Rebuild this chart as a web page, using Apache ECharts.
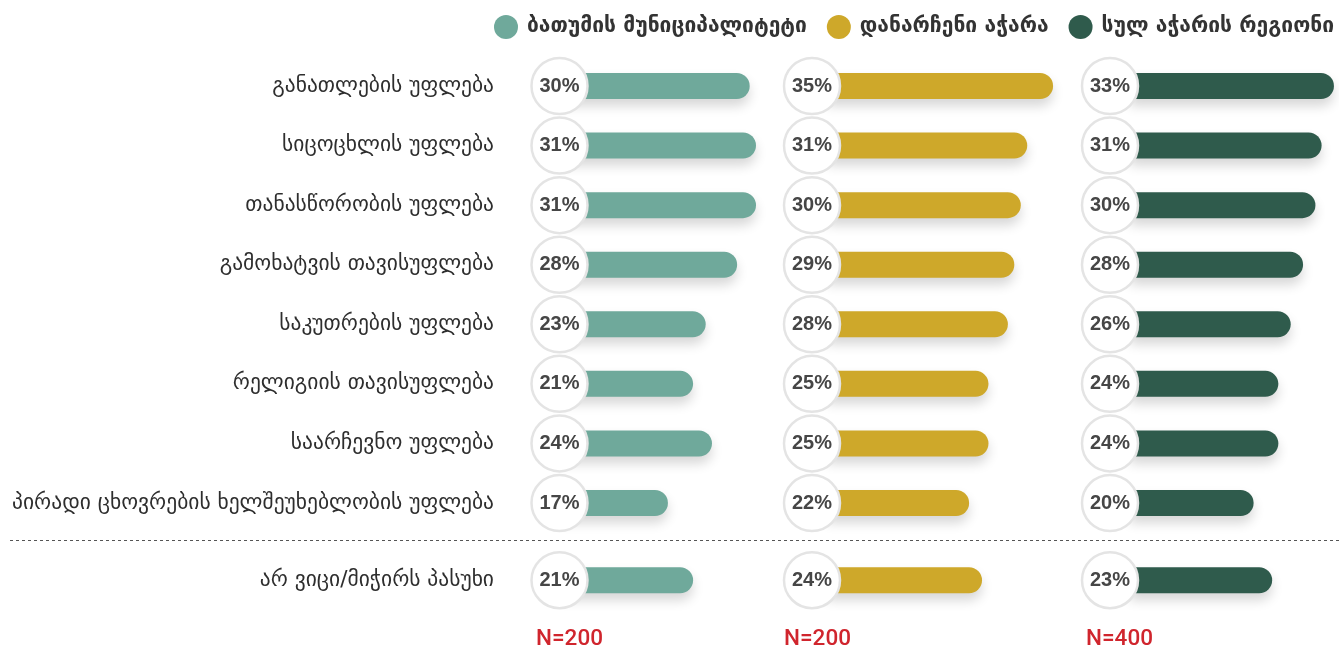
<!DOCTYPE html>
<html>
<head>
<meta charset="utf-8">
<script src="https://cdn.jsdelivr.net/npm/echarts@6/dist/echarts.min.js"></script>
<style>
html,body{margin:0;padding:0;background:#fff;}
#chart{width:1339px;height:651px;}
</style>
</head>
<body>
<div id="chart"></div>
<script>
// ---- data ----
const categories = [
  'განათლების უფლება',
  'სიცოცხლის უფლება',
  'თანასწორობის უფლება',
  'გამოხატვის თავისუფლება',
  'საკუთრების უფლება',
  'რელიგიის თავისუფლება',
  'საარჩევნო უფლება',
  'პირადი ცხოვრების ხელშეუხებლობის უფლება'
];
const extraCategories = ['არ ვიცი/მიჭირს პასუხი'];
const seriesNames = ['ბათუმის მუნიციპალიტეტი', 'დანარჩენი აჭარა', 'სულ აჭარის რეგიონი'];
const batumi      = [30, 31, 31, 28, 23, 21, 24, 17];
const restAdjara  = [35, 31, 30, 29, 28, 25, 25, 22];
const allAdjara   = [33, 31, 30, 28, 26, 24, 24, 20];
const batumiExtra = [21];
const restExtra   = [24];
const allExtra    = [23];
const sampleSizes = ['N=200', 'N=200', 'N=400'];

// ---- layout / style ----
const colors = ['#6fa99b', '#cea82a', '#2f5b4c'];
const mainValues = [batumi, restAdjara, allAdjara];
const extraValues = [batumiExtra, restExtra, allExtra];
const panels = [
  {left: 559.5, min: -0.24, max: 40, scale: 6.29},
  {left: 812,   min: -2.32, max: 40, scale: 6.46},
  {left: 1110,  min: -3.24, max: 33.8, scale: 6.18}
];
const nLeft = [536, 784, 1086];
const geoFont = '"DejaVu Sans", "Noto Sans", sans-serif';
const numFont = '"Liberation Sans", Arial, sans-serif';

const grids = [], xAxes = [], yAxes = [], series = [];
const rowsSets = [
  {cats: categories, top: 56.2, height: 476.6, vals: mainValues},
  {cats: extraCategories, top: 550.4, height: 59.6, vals: extraValues}
];

rowsSets.forEach((rs, r) => {
  panels.forEach((p, i) => {
    const gi = grids.length;
    grids.push({left: p.left, top: rs.top, height: rs.height,
      width: (p.max - p.min) * p.scale, containLabel: false});
    xAxes.push({type: 'value', gridIndex: gi, min: p.min, max: p.max,
      show: false, splitLine: {show: false}});
    yAxes.push({type: 'category', gridIndex: gi, data: rs.cats, inverse: true,
      axisLine: {show: false}, axisTick: {show: false}, splitLine: {show: false},
      axisLabel: {show: i === 0, margin: 65.5, color: '#2e2e2e', fontSize: 21.5,
        fontFamily: geoFont, align: 'right'}});
    const vals = rs.vals[i];
    series.push({
      name: seriesNames[i], type: 'bar', xAxisIndex: gi, yAxisIndex: gi,
      data: vals, barWidth: 26, z: 2, clip: false,
      itemStyle: {color: colors[i], borderRadius: [0, 13, 13, 0],
        shadowColor: 'rgba(0,0,0,0.16)', shadowBlur: 12, shadowOffsetY: 7},
      emphasis: {disabled: true}, silent: true
    });
    series.push({
      name: 'circle' + gi, type: 'scatter', xAxisIndex: gi, yAxisIndex: gi,
      data: vals.map((v, k) => ({value: [p.min, rs.cats[k]], pct: v})),
      symbol: 'circle', symbolSize: 56, z: 5, clip: false,
      itemStyle: {color: '#fff', borderColor: '#e4e4e4', borderWidth: 2.5, opacity: 1},
      label: {show: true, position: 'inside', formatter: d => d.data.pct + '%',
        color: '#464646', fontSize: 20, fontWeight: 'bold', fontFamily: numFont},
      emphasis: {disabled: true}, silent: true
    });
  });
});

const graphics = [
  {type: 'line', shape: {x1: 10, y1: 540.5, x2: 1339, y2: 540.5},
   style: {stroke: '#555', lineWidth: 1, lineDash: [3, 3]}, silent: true}
];
sampleSizes.forEach((t, i) => {
  graphics.push({type: 'text', left: nLeft[i], top: 628,
    style: {text: t, fill: '#d0252d', fontSize: 22.5, fontWeight: 500, fontFamily: 'Roboto, "Liberation Sans", sans-serif'}});
});

const chart = echarts.init(document.getElementById('chart'), null, {renderer: 'canvas'});
chart.setOption({
  backgroundColor: '#fff',
  animation: false,
  legend: {
    data: seriesNames, right: 0, top: 10, icon: 'circle',
    itemWidth: 24, itemHeight: 24, itemGap: 20,
    textStyle: {color: '#333', fontSize: 21, fontWeight: 'bold', fontFamily: geoFont, padding: [0, 0, 0, 4]},
    selectedMode: false
  },
  grid: grids, xAxis: xAxes, yAxis: yAxes, series: series,
  graphic: graphics
});
</script>
</body>
</html>
